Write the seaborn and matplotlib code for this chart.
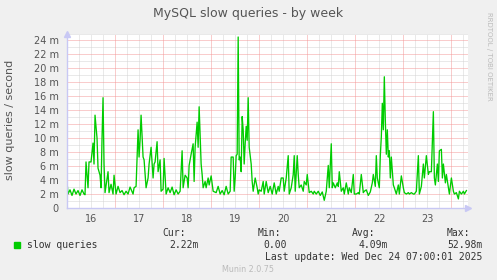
import numpy as np
import pandas as pd
import matplotlib
matplotlib.use("Agg")
import matplotlib.pyplot as plt
import seaborn as sns

# hours since Dec 16 00:00
hours = [0, 0.5, 1.5, 2.5, 3.5, 4.5, 5.5, 6.5, 7.5, 8.5, 9, 9.5, 10.5, 11, 12, 13, 13.5, 14, 15, 15.5,
         16.5, 17, 17.5, 18, 18.5, 19, 20.5, 21, 22, 23, 23.5, 24.5, 25.5,
         26.5, 27.5, 28.5, 29.5, 30.5, 31.5, 33, 33.5, 34.5, 35.5, 36, 36.5, 37, 38, 38.5, 39.5, 40.5,
         41, 42, 43, 43.5, 44, 45, 45.5, 46.5, 47, 48, 48.5, 49.5,
         50.5, 51.5, 52.5, 53.5, 54.5, 55.5, 56.5, 57.5, 58, 59, 60, 60.5, 61, 62, 63, 63.5, 64, 65,
         65.5, 66, 67, 67.5, 68, 69, 69.5, 70.5, 71, 72, 73, 74.5,
         75.5, 76.5, 77.5, 78.5, 79.5, 80.5, 81.5, 82, 83, 83.5, 84, 84.5, 85, 85.5, 86, 86.5, 87,
         87.5, 88, 88.5, 89, 89.5, 90, 90.5, 91, 92, 92.5, 93, 94, 95, 95.5, 96, 97, 98, 98.5, 99.5, 100.5,
         101.5, 102.5, 103.5, 104.5, 105.5, 106, 107, 108, 108.5, 109.5, 110.5, 111, 112, 113, 113.5,
         114, 115, 115.5, 116, 117, 118, 118.5, 119.5, 120, 121, 122, 123, 123.5, 124.5,
         125.5, 126.5, 127.5, 128.5, 129.5, 130.5, 131, 132, 132.5, 133, 134, 135, 135.5, 136, 137,
         138, 138.5, 139.5, 140.5, 141, 142, 143, 143.5, 144.5, 145.5, 146, 147, 148, 148.5, 149.5,
         150.5, 151.5, 152.5, 153, 154, 154.5, 155, 156, 156.5, 157, 157.5, 158, 158.5, 159, 159.5,
         160, 160.5, 161, 161.5, 162, 163, 163.5, 164.5, 165.5, 166, 167, 168, 168.5, 169.5, 170.5,
         171, 172, 173, 173.5, 174.5,
         175.5, 176, 177, 178, 178.5, 179.5, 180.5, 181, 182, 183, 183.5, 184, 185, 185.5, 186, 187,
         187.5, 188, 189, 189.5, 190.5, 191, 192, 193, 193.5, 194.5, 195.5, 196, 197, 198, 198.5, 199.5]

# slow queries per second, in milli-units (m)
slow_m = [3.8, 2.0, 2.6, 1.8, 2.7, 2.0, 2.5, 1.8, 2.6, 2.0, 1.9, 6.6, 2.9, 6.6, 6.6, 9.3, 6.3, 13.3, 10.0, 5.7,
          4.7, 2.9, 10.0, 15.8, 6.3, 2.2, 5.2, 2.2, 3.4, 2.0, 4.7, 2.0, 3.1,
          2.2, 2.5, 1.9, 2.4, 2.0, 3.0, 2.0, 2.9, 3.1, 11.2, 7.3, 9.7, 13.3, 7.3, 6.9, 2.9, 4.3,
          6.3, 8.7, 4.3, 6.3, 6.6, 9.5, 5.2, 6.9, 2.4, 2.7, 7.1, 2.0,
          2.9, 2.2, 3.0, 1.9, 2.6, 2.0, 2.4, 8.2, 2.9, 4.7, 4.3, 2.9, 6.1, 7.7, 9.2, 3.8, 8.7, 12.3,
          8.7, 14.5, 6.3, 4.8, 2.9, 3.8, 2.9, 4.3, 3.3, 4.6, 2.4, 2.2,
          3.1, 2.0, 2.5, 1.9, 3.1, 2.0, 2.4, 7.3, 7.3, 2.4, 4.3, 7.5, 7.7, 24.5, 6.9, 7.3, 5.2,
          13.1, 11.2, 6.3, 9.2, 11.7, 9.7, 15.8, 8.7, 6.3, 3.8, 2.4, 4.3, 2.9, 2.0, 2.6, 2.4, 3.8, 2.0, 3.8, 2.2,
          3.1, 2.0, 3.6, 2.0, 3.1, 2.4, 4.3, 4.3, 2.4, 4.3, 7.5, 2.0, 2.9, 4.8, 7.5,
          2.4, 7.5, 4.8, 2.9, 3.3, 2.4, 3.8, 3.3, 4.8, 2.2, 2.4, 2.0, 2.4, 2.0,
          2.4, 1.8, 2.3, 1.1, 2.4, 6.1, 2.9, 9.2, 2.9, 3.6, 2.9, 3.6, 3.1, 5.2, 2.4,
          2.9, 2.0, 3.6, 2.0, 2.9, 2.2, 4.8, 2.0, 2.0, 2.2, 2.0, 4.8, 2.2, 2.4, 2.6,
          1.8, 2.3, 3.6, 4.8, 3.1, 7.5, 4.3, 2.9, 7.5, 10.2, 15.0, 11.2, 18.8, 12.6, 7.7,
          11.2, 7.3, 8.2, 4.3, 7.3, 3.3, 2.9, 2.0, 3.3, 2.0, 4.6, 2.9, 2.2, 2.0, 2.2,
          2.0, 2.2, 2.0, 2.0, 2.4,
          7.5, 2.0, 3.1, 6.3, 4.3, 7.5, 4.8, 5.2, 5.2, 13.8, 4.3, 3.3, 6.3, 3.8, 8.2, 8.4,
          4.3, 6.3, 3.6, 4.8, 2.9, 2.0, 4.3, 2.4, 2.0, 2.2, 1.3, 2.4, 2.0, 2.4, 2.0, 2.5]

day_labels = ["16", "17", "18", "19", "20", "21", "22", "23"]
y_ticks = [0, 2, 4, 6, 8, 10, 12, 14, 16, 18, 20, 22, 24]
y_tick_labels = ["0"] + [f"{v} m" for v in y_ticks[1:]]

legend_name = "slow queries"
stat_heads = ["Cur:", "Min:", "Avg:", "Max:"]
stat_vals = ["2.22m", "0.00", "4.09m", "52.98m"]

W, H = 497, 280
fig = plt.figure(figsize=(W / 100, H / 100), dpi=100, facecolor="#F0F0F0")
L, R, T, B = 67, 468, 33.5, 208
ax = fig.add_axes([L / W, 1 - B / H, (R - L) / W, (B - T) / H])
ax.set_facecolor("white")

XMAX, YMAX = 200.3, 25.0
ax.set_xlim(0, XMAX)
ax.set_ylim(0, YMAX)

# grid
dot = (0, (1, 1))
for h in np.arange(6, XMAX, 6):
    if h % 24 != 0:
        ax.axvline(h, color="#D4D4D4", lw=0.72, ls=dot, zorder=1)
for h in np.arange(24, XMAX, 24):
    ax.axvline(h, color="#F49A9A", lw=0.72, ls=dot, zorder=1.5)
for v in np.arange(1, YMAX + 0.01, 1):
    if v % 2 != 0:
        ax.axhline(v, color="#D4D4D4", lw=0.72, ls=dot, zorder=1)
for v in np.arange(2, YMAX, 2):
    ax.axhline(v, color="#F49A9A", lw=0.72, ls=dot, zorder=1.5)

df = pd.DataFrame({"hours": hours, "slow": slow_m})
sns.lineplot(data=df, x="hours", y="slow", ax=ax, color="#00CC00", lw=0.95, zorder=3)

ax.set_xlabel("")
ax.set_ylabel("")
ax.set_xticks([12 + 24 * i for i in range(len(day_labels))])
ax.set_xticklabels(day_labels)
ax.set_yticks(y_ticks)
ax.set_yticklabels(y_tick_labels)
ax.tick_params(axis="both", length=0, labelsize=7, colors="#555555")
ax.tick_params(axis="x", pad=4)
ax.tick_params(axis="y", pad=6)

for s in ["top", "right"]:
    ax.spines[s].set_visible(False)
for s in ["left", "bottom"]:
    ax.spines[s].set_color("#C8C8F4")
    ax.spines[s].set_linewidth(1.0)
    ax.spines[s].set_zorder(4)
ax.plot([0], [1.0], marker="^", color="#C8C8F4", ms=5, transform=ax.transAxes, clip_on=False, zorder=5)
ax.plot([1.0], [0], marker=">", color="#C8C8F4", ms=5, transform=ax.transAxes, clip_on=False, zorder=5)

def px(x, y):
    return x / W, 1 - y / H

fig.text(*px(248, 13), "MySQL slow queries - by week", ha="center", va="center",
         fontsize=9, color="#555555")
fig.text(*px(10, 120), "slow queries / second", ha="center", va="center", rotation=90,
         fontsize=8, color="#555555")
fig.text(*px(489, 56), "RRDTOOL / TOBI OETIKER", ha="center", va="center", rotation=270,
         fontsize=5, color="#BBBBBB")

mono = "DejaVu Sans Mono"
fig.patches.append(plt.Rectangle(px(14, 248), 6 / W, 6 / H, transform=fig.transFigure,
                                 color="#00CC00", figure=fig))
fig.text(*px(27, 245), legend_name, ha="left", va="center", family=mono, fontsize=7, color="#333333")
head_right = [186, 281, 375, 470]
val_right = [199, 287, 388, 483]
for hx, hv, vx, vv in zip(head_right, stat_heads, val_right, stat_vals):
    fig.text(*px(hx, 232.5), hv, ha="right", va="center", family=mono, fontsize=7, color="#333333")
    fig.text(*px(vx, 245), vv, ha="right", va="center", family=mono, fontsize=7, color="#333333")
fig.text(*px(482, 257), "Last update: Wed Dec 24 07:00:01 2025", ha="right", va="center",
         family=mono, fontsize=7, color="#333333")
fig.text(*px(248, 269), "Munin 2.0.75", ha="center", va="center", fontsize=5.8, color="#BBBBBB")

fig.savefig("out.png", dpi=100, facecolor=fig.get_facecolor())
